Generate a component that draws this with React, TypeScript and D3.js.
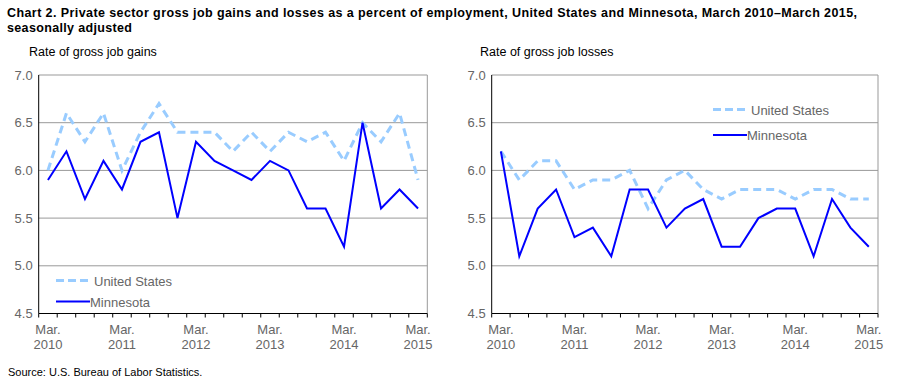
import React from "react";
import * as d3 from "d3";

const quarters = [
  "Mar. 2010","Jun. 2010","Sep. 2010","Dec. 2010",
  "Mar. 2011","Jun. 2011","Sep. 2011","Dec. 2011",
  "Mar. 2012","Jun. 2012","Sep. 2012","Dec. 2012",
  "Mar. 2013","Jun. 2013","Sep. 2013","Dec. 2013",
  "Mar. 2014","Jun. 2014","Sep. 2014","Dec. 2014",
  "Mar. 2015",
];
const usGains = [6.0,6.6,6.3,6.6,6.0,6.4,6.7,6.4,6.4,6.4,6.2,6.4,6.2,6.4,6.3,6.4,6.1,6.5,6.3,6.6,5.9];
const mnGains = [5.9,6.2,5.7,6.1,5.8,6.3,6.4,5.5,6.3,6.1,6.0,5.9,6.1,6.0,5.6,5.6,5.2,6.5,5.6,5.8,5.6];
const usLosses = [6.2,5.9,6.1,6.1,5.8,5.9,5.9,6.0,5.6,5.9,6.0,5.8,5.7,5.8,5.8,5.8,5.7,5.8,5.8,5.7,5.7];
const mnLosses = [6.2,5.1,5.6,5.8,5.3,5.4,5.1,5.8,5.8,5.4,5.6,5.7,5.2,5.2,5.5,5.6,5.6,5.1,5.7,5.4,5.2];
const yTicks = [4.5,5.0,5.5,6.0,6.5,7.0];
const seriesNames = ["United States","Minnesota"];

const FONT = "Arial, 'Liberation Sans', sans-serif";
const US_COLOR = "#99CCFF";
const MN_COLOR = "#0000FF";

type PanelProps = {
  x0: number; x1: number; title: string; titleX: number;
  us: number[]; mn: number[]; legendX: number; legendY: number; legendGap: number;
};

function Panel({ x0, x1, title, titleX, us, mn, legendX, legendY, legendGap }: PanelProps) {
  const yTop = 75, yBot = 313.5;
  const x = d3.scaleBand<string>().domain(quarters).range([x0, x1]);
  const y = d3.scaleLinear().domain([4.5, 7.0]).range([yBot, yTop]);
  const cx = (i: number) => (x(quarters[i]) as number) + x.bandwidth() / 2;
  const line = d3.line<number>().x((_, i) => cx(i)).y(d => y(d));
  const tickXs = quarters.map(q => x(q) as number).concat([x1]);
  return (
    <g>
      <text x={titleX} y={56} fontSize={12.5} fill="#000" fontFamily={FONT}>{title}</text>
      {yTicks.map(t => (
        <g key={t}>
          {t > 4.5 && <line x1={x0} x2={x1} y1={y(t)} y2={y(t)} stroke="#999" strokeWidth={1} />}
          <text x={x0 - 6} y={y(t) + 4.5} textAnchor="end" fontSize={13} fill="#666" fontFamily={FONT}>{t.toFixed(1)}</text>
        </g>
      ))}
      <line x1={x1} x2={x1} y1={yTop} y2={yBot} stroke="#999" strokeWidth={1} />
      <line x1={x0} x2={x0} y1={yTop} y2={yBot} stroke="#000" strokeWidth={1} />
      <line x1={x0} x2={x1} y1={yBot} y2={yBot} stroke="#000" strokeWidth={1} />
      {tickXs.map((tx, i) => (
        <line key={i} x1={tx} x2={tx} y1={yBot} y2={yBot + 4} stroke="#000" strokeWidth={1} />
      ))}
      {quarters.map((q, i) => i % 4 === 0 ? (
        <text key={q} x={cx(i)} textAnchor="middle" fontSize={13} fill="#666" fontFamily={FONT}>
          <tspan x={cx(i)} y={334}>{q.split(" ")[0]}</tspan>
          <tspan x={cx(i)} y={349}>{q.split(" ")[1]}</tspan>
        </text>
      ) : null)}
      <path d={line(us) || ""} fill="none" stroke={US_COLOR} strokeWidth={3} strokeDasharray="8,5" />
      <path d={line(mn) || ""} fill="none" stroke={MN_COLOR} strokeWidth={2} />
      <line x1={legendX} x2={legendX + 34} y1={legendY} y2={legendY} stroke={US_COLOR} strokeWidth={3} strokeDasharray="8,4" />
      <text x={legendX + 38} y={legendY + 5} fontSize={13} fill="#666" fontFamily={FONT}>{seriesNames[0]}</text>
      <line x1={legendX} x2={legendX + 34} y1={legendY + legendGap} y2={legendY + legendGap} stroke={MN_COLOR} strokeWidth={2} />
      <text x={legendX + 34} y={legendY + legendGap + 5} fontSize={13} fill="#666" fontFamily={FONT}>{seriesNames[1]}</text>
    </g>
  );
}

export default function App() {
  return (
    <svg width={901} height={385} style={{ display: "block", position: "absolute", left: 0, top: 0, background: "#fff" }}>
      <text x={7} y={17} fontSize={12.5} fontWeight="bold" fontFamily="'Liberation Sans Narrow', 'Arial Narrow', Arial, sans-serif" textLength={850} lengthAdjust="spacing">
        Chart 2. Private sector gross  job gains and losses  as a percent of employment, United States and Minnesota, March 2010–March 2015,
      </text>
      <text x={7} y={32} fontSize={12.5} fontWeight="bold" fontFamily="'Liberation Sans Narrow', 'Arial Narrow', Arial, sans-serif" textLength={125} lengthAdjust="spacing">
        seasonally adjusted
      </text>
      <Panel x0={38.7} x1={427.3} title="Rate of gross job gains" titleX={29} us={usGains} mn={mnGains} legendX={56} legendY={280.5} legendGap={21} />
      <Panel x0={491.7} x1={878} title="Rate of gross job losses" titleX={480} us={usLosses} mn={mnLosses} legendX={713} legendY={109.5} legendGap={25.5} />
      <text x={8} y={376} fontSize={11} fill="#000" fontFamily={FONT}>Source: U.S. Bureau of Labor Statistics.</text>
    </svg>
  );
}
